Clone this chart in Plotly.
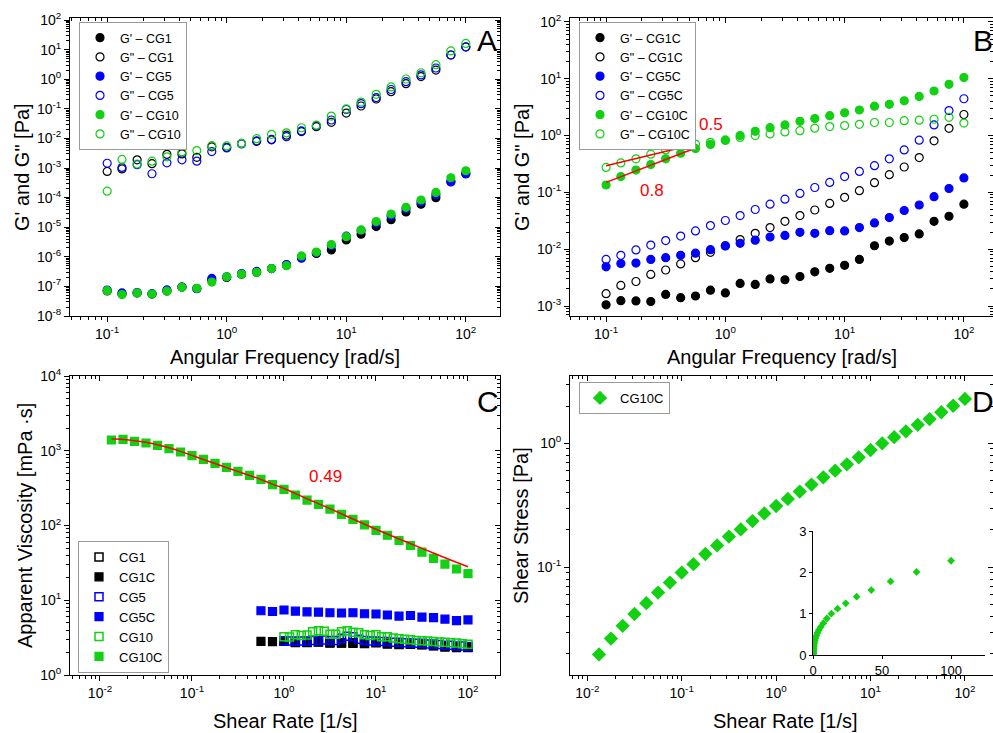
import math
import plotly.graph_objects as go

# ---------------- data ----------------
freq = [0.1, 0.133, 0.178, 0.237, 0.316, 0.422, 0.562, 0.75, 1.0, 1.33, 1.78, 2.37,
        3.16, 4.22, 5.62, 7.5, 10, 13.3, 17.8, 23.7, 31.6, 42.2, 56.2, 75, 100]

# Panel A
a_g1_cg1 = [7e-8, 5.5e-8, 6e-8, 5.5e-8, 7e-8, 9.5e-8, 8.5e-8, 1.6e-7, 2e-7, 2.6e-7, 3e-7, 4e-7,
            5.2e-7, 1e-6, 1.3e-6, 1.7e-6, 3.7e-6, 5.8e-6, 1.05e-5, 1.8e-5, 3.3e-5, 6e-5, 1.0e-4, 3.5e-4, 6.6e-4]
a_g2_cg1 = [7.7e-4, 9.3e-4, 1.9e-3, 1.4e-3, 2.9e-3, 3.0e-3, 2.3e-3, 5.2e-3, 5.0e-3, 6.8e-3, 8e-3, 9e-3,
            0.013, 0.017, 0.025, 0.035, 0.072, 0.125, 0.215, 0.38, 0.71, 1.23, 2.05, 6.6, 12.3]
a_g1_cg5 = [7.5e-8, 6e-8, 6.2e-8, 5.7e-8, 7.6e-8, 9.5e-8, 8.4e-8, 1.86e-7, 2.1e-7, 2.7e-7, 3.2e-7, 4e-7,
            5.5e-7, 9e-7, 1.4e-6, 2.4e-6, 5e-6, 7.8e-6, 1.4e-5, 2.4e-5, 4.2e-5, 7.3e-5, 1.25e-4, 3.4e-4, 6.3e-4]
a_g2_cg5 = [1.45e-3, 1.05e-3, 1.3e-3, 6.4e-4, 1.5e-3, 1.9e-3, 1.7e-3, 3.6e-3, 4.8e-3, 6.5e-3, 8.3e-3, 9.3e-3,
            0.0115, 0.018, 0.027, 0.042, 0.095, 0.15, 0.24, 0.45, 0.83, 1.4, 2.4, 6.6, 12.5]
a_g1_cg10 = [7.2e-8, 5.3e-8, 6e-8, 5.5e-8, 6.9e-8, 9.3e-8, 8.6e-8, 1.4e-7, 2.1e-7, 2.6e-7, 3.0e-7, 4.0e-7,
             5.0e-7, 1.07e-6, 1.45e-6, 2.6e-6, 4.8e-6, 8.1e-6, 1.55e-5, 2.8e-5, 4.7e-5, 8.3e-5, 1.5e-4, 4.7e-4, 8.1e-4]
a_g2_cg10 = [1.65e-4, 1.95e-3, 1.37e-3, 1.7e-3, 2.4e-3, 3.5e-3, 3.9e-3, 5.7e-3, 5.6e-3, 6.8e-3, 9.8e-3, 0.0138,
             0.0155, 0.023, 0.028, 0.057, 0.1, 0.17, 0.31, 0.55, 1.02, 1.66, 3.1, 9.1, 16.3]

# Panel B
b_g1_cg1c = [1.05e-3, 1.24e-3, 1.23e-3, 1.2e-3, 1.6e-3, 1.4e-3, 1.5e-3, 1.9e-3, 1.7e-3, 2.5e-3, 2.4e-3, 3.0e-3,
             2.9e-3, 3.3e-3, 4.0e-3, 4.6e-3, 5.2e-3, 6.6e-3, 0.0115, 0.0139, 0.016, 0.0186, 0.031, 0.038, 0.062]
b_g2_cg1c = [1.65e-3, 2.3e-3, 2.7e-3, 3.6e-3, 4.3e-3, 5.5e-3, 7.1e-3, 8.8e-3, 0.0115, 0.0148, 0.019, 0.024,
             0.031, 0.039, 0.049, 0.064, 0.082, 0.107, 0.148, 0.205, 0.28, 0.41, 0.81, 1.34, 2.35]
b_g1_cg5c = [4.9e-3, 5.6e-3, 5.7e-3, 6.6e-3, 7.1e-3, 7.8e-3, 8.5e-3, 9.8e-3, 0.0114, 0.0127, 0.0144, 0.0164,
             0.0175, 0.0198, 0.019, 0.0212, 0.021, 0.024, 0.029, 0.036, 0.048, 0.060, 0.084, 0.117, 0.18]
b_g2_cg5c = [6.6e-3, 7.8e-3, 9.7e-3, 0.0118, 0.0142, 0.017, 0.021, 0.026, 0.032, 0.039, 0.050, 0.062,
             0.076, 0.096, 0.122, 0.15, 0.19, 0.234, 0.295, 0.39, 0.56, 0.83, 1.54, 2.76, 4.45]
b_g1_cg10c = [0.135, 0.19, 0.247, 0.31, 0.39, 0.49, 0.59, 0.70, 0.83, 1.0, 1.19, 1.38,
              1.54, 1.78, 1.99, 2.24, 2.52, 2.82, 3.3, 3.55, 4.1, 4.9, 6.1, 8.0, 10.5]
b_g2_cg10c = [0.275, 0.33, 0.39, 0.47, 0.56, 0.64, 0.71, 0.76, 0.83, 0.93, 1.0, 1.07,
              1.16, 1.22, 1.35, 1.44, 1.5, 1.58, 1.7, 1.7, 1.83, 1.87, 1.94, 2.1, 1.66]
b_fit_x = [0.1, 0.57]
b_fit_g2 = [0.295, 0.71]
b_fit_g1 = [0.15, 0.61]

# Panel C
rate = [0.0133, 0.0178, 0.0237, 0.0316, 0.0422, 0.0562, 0.075, 0.1, 0.133, 0.178, 0.237, 0.316,
        0.422, 0.562, 0.75, 1.0, 1.33, 1.78, 2.37, 3.16, 4.22, 5.62, 7.5, 10, 13.3, 17.8, 23.7,
        31.6, 42.2, 56.2, 75, 100]
c_cg10c = [1393, 1422, 1337, 1270, 1181, 1066, 962, 859, 767, 679, 600, 530, 469, 415, 352, 305,
           256, 219, 192, 166, 141, 121, 102, 86, 74, 63, 54, 44, 36.4, 30.5, 26.2, 22.7]
rate_mid = [0.562, 0.75, 1.0, 1.33, 1.78, 2.37, 3.16, 4.22, 5.62, 7.5, 10, 13.3, 17.8, 23.7,
            31.6, 42.2, 56.2, 75, 100]
c_cg5c = [7.24, 7.07, 7.4, 7.15, 7.0, 6.95, 6.8, 6.75, 6.8, 6.6, 6.55, 6.35, 6.15, 6.25, 5.95,
          5.85, 5.6, 5.35, 5.45]
c_cg1c = [2.82, 2.8, 2.82, 2.7, 2.7, 2.76, 2.66, 2.66, 2.64, 2.62, 2.74, 2.58, 2.54, 2.6, 2.52,
          2.45, 2.36, 2.32, 2.34]
rate_hi = [1.0, 1.33, 1.78, 2.37, 3.16, 4.22, 5.62, 7.5, 10, 13.3, 17.8, 23.7, 31.6, 42.2, 56.2, 75, 100]
c_cg1 = [2.85, 2.75, 2.75, 2.78, 2.72, 2.7, 2.7, 2.68, 2.7, 2.65, 2.6, 2.58, 2.55, 2.48, 2.42, 2.38, 2.33]
rate_dense = [1, 1.15, 1.33, 1.54, 1.78, 2.05, 2.37, 2.74, 3.16, 3.65, 4.22, 4.87, 5.62, 6.49, 7.5,
              8.66, 10, 11.5, 13.3, 15.4, 17.8, 20.5, 23.7, 27.4, 31.6, 36.5, 42.2, 48.7, 56.2,
              64.9, 75, 86.6, 100]
c_cg5 = [2.85, 2.85, 2.85, 2.85, 2.85, 2.9, 2.9, 2.95, 2.9, 2.9, 3.1, 3.3, 3.25, 3.0, 2.9, 2.85,
         2.85, 2.8, 2.8, 2.75, 2.75, 2.7, 2.7, 2.65, 2.65, 2.6, 2.6, 2.55, 2.5, 2.5, 2.45, 2.45, 2.4]
c_cg10 = [3.26, 3.23, 3.46, 3.38, 3.42, 3.78, 3.92, 3.85, 3.5, 3.5, 3.78, 3.9, 3.72, 3.68, 3.46,
          3.38, 3.46, 3.26, 3.26, 3.12, 3.05, 3.0, 2.96, 2.9, 2.87, 2.85, 2.8, 2.77, 2.74, 2.7,
          2.67, 2.62, 2.57]
c_fit_x = [0.0133, 0.0178, 0.0237, 0.0316, 0.0422, 0.0562, 0.075, 0.1, 0.133, 0.178, 0.237, 0.316,
           0.422, 0.562, 0.75, 1.0, 1.78, 3.16, 5.62, 10, 17.8, 31.6, 56.2, 100]
c_fit_y = [1445, 1415, 1365, 1295, 1205, 1095, 980, 868, 765, 675, 595, 527, 466, 412, 358, 312,
           228, 168, 122, 89, 66, 49.5, 37, 28]

# Panel D
d_stress = [0.0198, 0.0266, 0.0337, 0.042, 0.0513, 0.0625, 0.0752, 0.0906, 0.106, 0.128, 0.150,
            0.177, 0.202, 0.236, 0.272, 0.312, 0.356, 0.408, 0.465, 0.532, 0.602, 0.677, 0.771,
            0.883, 1.0, 1.12, 1.25, 1.41, 1.57, 1.78, 2.01, 2.28]

# ---------------- style ----------------
FONT = "Liberation Sans, Arial, sans-serif"
BLACK = "#000000"
BLUE = "#0000FF"
GREEN = "#12D012"
RED = "#FF0000"
W, H = 993, 733

fig = go.Figure()


def pts(x, y, name, color, filled, symbol, size, xa, ya, leg, lw=1.2):
    sym = symbol if filled else symbol + "-open"
    fig.add_trace(go.Scatter(
        x=x, y=y, name=name, mode="markers", xaxis=xa, yaxis=ya, legend=leg,
        marker=dict(symbol=sym, size=size, color=color, line=dict(color=color, width=lw))))


D = "\u2013"
# Panel A
pts(freq, a_g1_cg1, f"G' {D} CG1", BLACK, True, "circle", 8, "x", "y", "legend")
pts(freq, a_g2_cg1, f'G" {D} CG1', BLACK, False, "circle", 8, "x", "y", "legend")
pts(freq, a_g1_cg5, f"G' {D} CG5", BLUE, True, "circle", 8, "x", "y", "legend")
pts(freq, a_g2_cg5, f'G" {D} CG5', BLUE, False, "circle", 8, "x", "y", "legend")
pts(freq, a_g1_cg10, f"G' {D} CG10", GREEN, True, "circle", 8, "x", "y", "legend")
pts(freq, a_g2_cg10, f'G" {D} CG10', GREEN, False, "circle", 8, "x", "y", "legend")

# Panel B
pts(freq, b_g1_cg1c, f"G' {D} CG1C", BLACK, True, "circle", 8, "x2", "y2", "legend2")
pts(freq, b_g2_cg1c, f'G" {D} CG1C', BLACK, False, "circle", 8, "x2", "y2", "legend2")
pts(freq, b_g1_cg5c, f"G' {D} CG5C", BLUE, True, "circle", 8, "x2", "y2", "legend2")
pts(freq, b_g2_cg5c, f'G" {D} CG5C', BLUE, False, "circle", 8, "x2", "y2", "legend2")
pts(freq, b_g1_cg10c, f"G' {D} CG10C", GREEN, True, "circle", 8, "x2", "y2", "legend2")
pts(freq, b_g2_cg10c, f'G" {D} CG10C', GREEN, False, "circle", 8, "x2", "y2", "legend2")
for fy in (b_fit_g2, b_fit_g1):
    fig.add_trace(go.Scatter(x=b_fit_x, y=fy, mode="lines", xaxis="x2", yaxis="y2",
                             line=dict(color=RED, width=1.5), showlegend=False, hoverinfo="skip"))

# Panel C
pts(rate_hi, c_cg1, "CG1", BLACK, False, "square", 8, "x3", "y3", "legend3", 1.5)
pts(rate_mid, c_cg1c, "CG1C", BLACK, True, "square", 8, "x3", "y3", "legend3")
pts(rate_dense, c_cg5, "CG5", BLUE, False, "square", 8, "x3", "y3", "legend3", 1.5)
pts(rate_mid, c_cg5c, "CG5C", BLUE, True, "square", 8, "x3", "y3", "legend3")
pts(rate_dense, c_cg10, "CG10", GREEN, False, "square", 8, "x3", "y3", "legend3", 1.5)
pts(rate, c_cg10c, "CG10C", GREEN, True, "square", 8, "x3", "y3", "legend3")
fig.add_trace(go.Scatter(x=c_fit_x, y=c_fit_y, mode="lines", xaxis="x3", yaxis="y3",
                         line=dict(color=RED, width=1.5, shape="spline"), showlegend=False,
                         hoverinfo="skip"))

# Panel D
pts(rate, d_stress, "CG10C", GREEN, True, "diamond", 11, "x4", "y4", "legend4", 0)
# Inset
fig.add_trace(go.Scatter(x=rate, y=d_stress, mode="markers", xaxis="x9", yaxis="y9",
                         marker=dict(symbol="diamond", size=6, color=GREEN), showlegend=False))

# empty traces for mirrored inner tick axes
for k in (5, 6, 7, 8):
    fig.add_trace(go.Scatter(x=[], y=[], xaxis=f"x{k}", yaxis=f"y{k}", showlegend=False,
                             hoverinfo="skip"))

# ---------------- axes ----------------
def sup(e):
    return f"10<sup>{e}</sup>"


def minor_vals(rng):
    out = []
    for e in range(math.floor(rng[0]) - 1, math.ceil(rng[1]) + 1):
        for m in range(2, 10):
            v = m * 10.0 ** e
            if rng[0] <= math.log10(v) <= rng[1]:
                out.append(v)
    return out


def log_axis(dom, anchor, rng, exps, side, ticks, labels=True, overlay=None):
    d = dict(type="log", domain=dom, anchor=anchor, range=rng, side=side, automargin=False,
             tickmode="array", tickvals=[10.0 ** e for e in exps],
             ticktext=[sup(e) for e in exps], ticks=ticks, ticklen=5, tickwidth=1,
             tickcolor=BLACK, showticklabels=labels, showgrid=False, zeroline=False,
             tickfont=dict(family=FONT, size=14, color=BLACK),
             minor=dict(tickmode="array", tickvals=minor_vals(rng), ticks=ticks, ticklen=3,
                        tickwidth=1, tickcolor=BLACK, showgrid=False))
    if overlay:
        d.update(overlaying=overlay, showline=False)
    else:
        d.update(showline=True, linecolor=BLACK, linewidth=1, mirror=True)
    return d


XL = [70 / W, 500 / W]
XR = [570 / W, 1.0]
YT = [1 - 316 / H, 1 - 18 / H]
YB = [1 - 675 / H, 1 - 376 / H]

rA_x, rA_y = [-1.311, 2.286], [-8, 2.07]
rB_x, rB_y = [-1.3025, 2.244], [-3.176, 2.07]
rC_x, rC_y = [-2.326, 2.348], [0, 4]
rD_x, rD_y = [-2.183, 2.297], [-1.869, 0.543]

panels = [
    (1, XL, YT, rA_x, rA_y, [-1, 0, 1, 2], list(range(-8, 3))),
    (2, XR, YT, rB_x, rB_y, [-1, 0, 1, 2], list(range(-3, 3))),
    (3, XL, YB, rC_x, rC_y, [-2, -1, 0, 1, 2], [0, 1, 2, 3, 4]),
    (4, XR, YB, rD_x, rD_y, [-2, -1, 0, 1, 2], [-1, 0]),
]
axes = {}
for i, xd, yd, rx, ry, xe, ye in panels:
    xn = "xaxis" if i == 1 else f"xaxis{i}"
    yn = "yaxis" if i == 1 else f"yaxis{i}"
    xr = "x" if i == 1 else f"x{i}"
    yr = "y" if i == 1 else f"y{i}"
    axes[xn] = log_axis(xd, yr, rx, xe, "bottom", "outside")
    axes[yn] = log_axis(yd, xr, ry, ye, "left", "outside")
    j = i + 4
    axes[f"xaxis{j}"] = log_axis(xd, f"y{j}", rx, xe, "top", "inside", False, xr)
    axes[f"yaxis{j}"] = log_axis(yd, f"x{j}", ry, ye, "right", "inside", False, yr)

axes["xaxis9"] = dict(domain=[813 / W, 985 / W], anchor="y9", range=[0, 124.6], automargin=False,
                      tickmode="array", tickvals=[0, 50, 100], ticks="outside", ticklen=3,
                      tickcolor=BLACK, showline=True, linecolor=BLACK, linewidth=1,
                      showgrid=False, zeroline=False,
                      tickfont=dict(family=FONT, size=13, color=BLACK))
axes["yaxis9"] = dict(domain=[1 - 655 / H, 1 - 531 / H], anchor="x9", range=[0, 3], automargin=False,
                      tickmode="array", tickvals=[0, 1, 2, 3], ticks="outside", ticklen=3,
                      tickcolor=BLACK, showline=True, linecolor=BLACK, linewidth=1,
                      showgrid=False, zeroline=False,
                      tickfont=dict(family=FONT, size=13, color=BLACK))

leg_common = dict(xanchor="left", bgcolor="white", bordercolor="#9a9a9a", borderwidth=1,
                  tracegroupgap=0)

annos = []


def txt(x, y, s, size, color=BLACK, angle=0):
    annos.append(dict(x=x / W, y=1 - y / H, xref="paper", yref="paper", text=s,
                      showarrow=False, xanchor="center", yanchor="middle", textangle=angle,
                      font=dict(family=FONT, size=size, color=color)))


txt(487, 40, "A", 30)
txt(983, 40, "B", 30)
txt(488, 401, "C", 30)
txt(983, 401, "D", 30)
txt(285, 357, "Angular Frequency [rad/s]", 20)
txt(782, 357, "Angular Frequency [rad/s]", 20)
txt(285, 721, "Shear Rate [1/s]", 20)
txt(785, 721, "Shear Rate [1/s]", 20)
txt(22, 167, 'G\' and G" [Pa]', 20, angle=-90)
txt(522, 167, 'G\' and G" [Pa]', 20, angle=-90)
txt(25, 526, "Apparent Viscosity [mPa ·s]", 20, angle=-90)
txt(521, 526, "Shear Stress [Pa]", 20, angle=-90)
txt(711, 124, "0.5", 17, RED)
txt(652, 190, "0.8", 17, RED)
txt(325, 476, "0.49", 17, RED)

fig.update_layout(
    width=W, height=H, autosize=False,
    margin=dict(l=0, r=0, t=0, b=0, autoexpand=False),
    paper_bgcolor="white", plot_bgcolor="white",
    font=dict(family=FONT, color=BLACK),
    showlegend=True,
    legend=dict(x=79 / W, y=1 - 22 / H, yanchor="top",
                font=dict(family=FONT, size=12.5, color=BLACK), **leg_common),
    legend2=dict(x=579 / W, y=1 - 22 / H, yanchor="top",
                 font=dict(family=FONT, size=12.5, color=BLACK), **leg_common),
    legend3=dict(x=78 / W, y=1 - 673 / H, yanchor="bottom",
                 font=dict(family=FONT, size=13, color=BLACK), **leg_common),
    legend4=dict(x=579 / W, y=1 - 382 / H, yanchor="top",
                 font=dict(family=FONT, size=13, color=BLACK), **leg_common),
    annotations=annos,
    **axes,
)

fig.write_html(
    "out.html",
    config={"displayModeBar": False},
    post_script="document.body.style.margin='0px';document.body.style.overflow='hidden';",
)
